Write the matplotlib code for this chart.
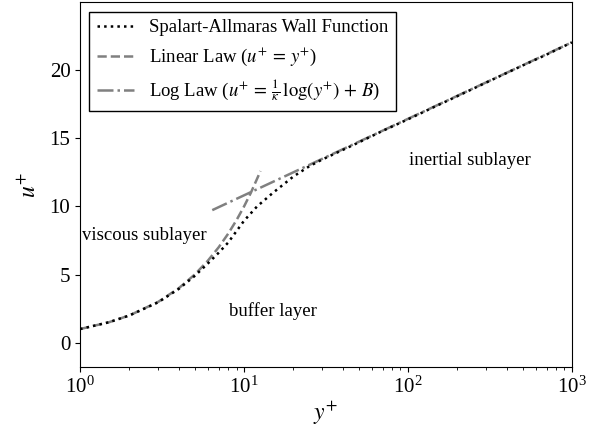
import numpy as np
import matplotlib.pyplot as plt

plt.rcParams['font.family'] = ['Liberation Serif', 'DejaVu Serif']
plt.rcParams['mathtext.fontset'] = 'stix'

# Spalart-Allmaras wall function
sa_yplus = [1, 1.5, 2, 3, 4, 5, 6, 7, 8, 10, 12, 15, 20, 25, 30, 40, 50, 70,
            100, 150, 200, 300, 500, 700, 1000]
sa_uplus = [1.0, 1.5, 2.0, 2.97, 3.95, 4.9, 5.8, 6.6, 7.35, 8.95, 10.0, 11.0,
            12.2, 12.95, 13.45, 14.15, 14.7, 15.55, 16.4, 17.4, 18.1, 19.1,
            20.35, 21.15, 22.05]

# Linear law u+ = y+
lin_yplus = [1, 1.5, 2, 3, 4, 5, 6, 7, 8, 9, 10, 11, 12.6]
lin_uplus = [1, 1.5, 2, 3, 4, 5, 6, 7, 8, 9, 10, 11, 12.6]

# Log law (straight on a log axis)
log_yplus = [6.4, 1000]
log_uplus = [9.73, 22.05]

fig = plt.figure(figsize=(5.89, 4.33), dpi=100)
ax = fig.add_axes([0.136, 0.152, 0.835, 0.843])

ax.plot(sa_yplus, sa_uplus, color='black', linestyle=':', lw=1.8,
        label='Spalart-Allmaras Wall Function', zorder=3)
ax.plot(lin_yplus, lin_uplus, color='gray', linestyle='--', lw=1.8,
        label=r'Linear Law ($u^{+}\,=\,y^{+}$)')
ax.plot(log_yplus, log_uplus, color='gray', linestyle='-.', lw=1.8,
        label=r'Log Law ($u^{+}\,=\,\frac{1}{\kappa}\,\log(y^{+})\,+\,B$)')

ax.text(1.03, 7.87, 'viscous sublayer', fontsize=13.5, va='center')
ax.text(15.0, 2.35, 'buffer layer', fontsize=13.5, va='center', ha='center')
ax.text(239, 13.4, 'inertial sublayer', fontsize=13.5, va='center', ha='center')

ax.set_xscale('log')
ax.set_xlim(1, 1000)
ax.set_ylim(-1.8, 25)
ax.set_yticks([0, 5, 10, 15, 20])
ax.tick_params(labelsize=15)
ax.set_xlabel(r'$y^{+}$', fontsize=17, labelpad=1)
ax.set_ylabel(r'$u^{+}$', fontsize=17, labelpad=6)

leg = ax.legend(loc='upper left', fancybox=False, edgecolor='black',
                framealpha=1, handlelength=2.0,
                prop={'family': 'Liberation Serif', 'size': 13.5})
leg.get_frame().set_linewidth(1.0)

plt.savefig('out.png', dpi=100)
